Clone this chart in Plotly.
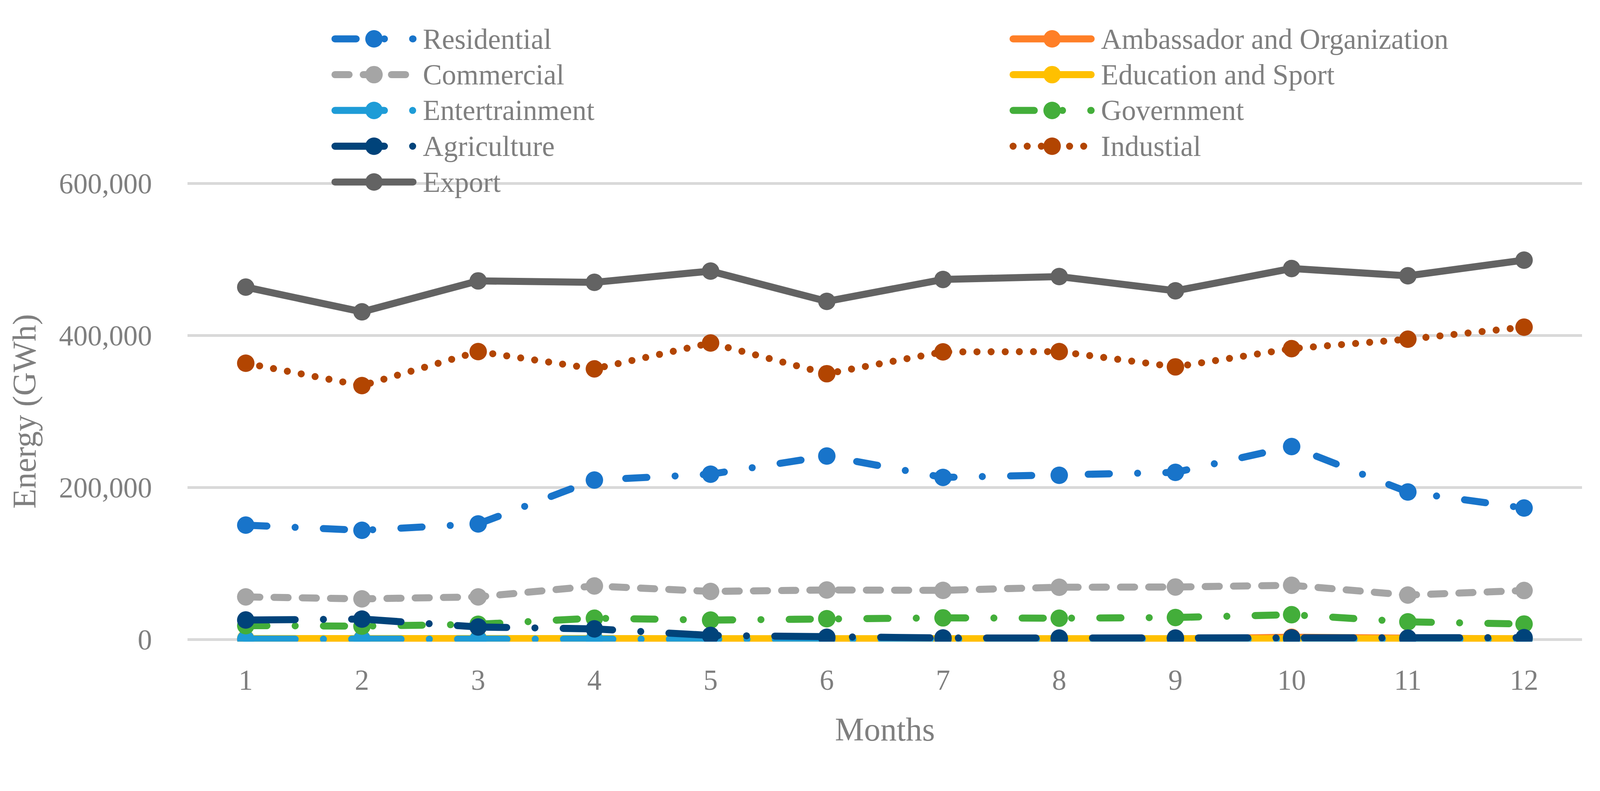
import plotly.graph_objects as go

# ---------------- data ----------------
months = list(range(1, 13))
series_names = ["Residential", "Ambassador and Organization", "Commercial",
                "Education and Sport", "Entertrainment", "Government",
                "Agriculture", "Industial", "Export"]

residential   = [150400, 143600, 152000, 209700, 217400, 241300, 213200, 216000, 219800, 253800, 194000, 172900]
ambassador    = [300, 300, 400, 500, 500, 300, 300, 300, 500, 2900, 1500, 600]
commercial    = [56000, 53400, 56000, 70400, 63200, 65100, 64600, 68700, 69000, 71300, 58400, 64400]
education     = [1100, 1000, 1100, 1000, 1100, 1000, 1000, 1000, 1000, 1100, 1000, 1000]
entertainment = [500, 450, 500, 480, 520, 470, 500, 490, 480, 510, 470, 500]
government    = [18200, 17500, 20000, 28000, 25500, 27300, 28400, 28000, 28900, 32600, 23200, 20300]
agriculture   = [25600, 26800, 16400, 13900, 5300, 2900, 2000, 1900, 1900, 2100, 1800, 2400]
industrial    = [363400, 334000, 378700, 356000, 390000, 349600, 378300, 378700, 358600, 382600, 395000, 410800]
export        = [463500, 431000, 471700, 469800, 484600, 444800, 473600, 477400, 458700, 488000, 478400, 499000]

y_ticks = [0, 200000, 400000, 600000]
y_max = 600000

values = [residential, ambassador, commercial, education, entertainment,
          government, agriculture, industrial, export]

# ---------------- styles ----------------
colors = ["#1874CA", "#FF7F27", "#A5A5A5", "#FFC000", "#1E9CD7",
          "#43AE3A", "#00437A", "#B24501", "#636363"]
LW = 19
MS = 47


def round_cap_dash(visible):
    """Visible dash/gap lengths -> dasharray for round-capped strokes."""
    if visible is None:
        return "solid"
    out = []
    for k, v in enumerate(visible):
        out.append(max(v - LW, 0) if k % 2 == 0 else v + LW)
    return ",".join("%gpx" % v for v in out)


DASH_DOT = [76, 57, 19, 57]
LONG_DASH_DOT = [152, 57, 19, 57]
visible_patterns = [DASH_DOT, None, [57, 19], None, LONG_DASH_DOT,
                    DASH_DOT, LONG_DASH_DOT, [19, 19], None]
dashes = [round_cap_dash(p) for p in visible_patterns]

FONT = "Liberation Serif"
TXT = "#7F7F7F"

W, H = 4306, 2024
zero_px, top_px = 1720, 467          # pixel rows of the 0 and 600,000 gridlines
PAD = 6                              # keep edge gridlines off the domain border
ML, MR, MT = 505, 48, 0
MB = H - (zero_px + PAD)
plot_h = H - MT - MB
px_per_unit = (zero_px - top_px) / y_max
y_pad = PAD / px_per_unit
dom_top = (plot_h - (top_px - PAD - MT)) / plot_h

fig = go.Figure()

# main series
for name, vals, col, dash in zip(series_names, values, colors, dashes):
    fig.add_trace(go.Scatter(
        x=months, y=vals, name=name, mode="lines+markers",
        line=dict(color=col, width=LW, dash=dash),
        marker=dict(color=col, size=MS, symbol="circle", opacity=1, line=dict(width=0)),
        xaxis="x", yaxis="y", showlegend=False))

# custom legend (two columns, row-major) drawn on an overlay pixel axis
col_x0 = [892, 2717]
row_y0, row_dy = 70, 98.3
sw_len = 229
annotations = []
for i, (name, col, dash) in enumerate(zip(series_names, colors, dashes)):
    r, c = divmod(i, 2)
    x0 = col_x0[c]
    yy = row_y0 + r * row_dy
    fig.add_trace(go.Scatter(
        x=[x0 + LW / 2, x0 + sw_len / 2, x0 + sw_len - LW / 2], y=[yy, yy, yy],
        mode="lines+markers",
        line=dict(color=col, width=LW, dash=dash),
        marker=dict(color=col, size=[0, MS, 0], opacity=1, line=dict(width=0)),
        xaxis="x2", yaxis="y2", showlegend=False, hoverinfo="skip"))
    annotations.append(dict(
        x=x0 + 244, y=yy, xref="x2", yref="y2", text=name, showarrow=False,
        xanchor="left", yanchor="middle",
        font=dict(family=FONT, size=77, color=TXT)))

fig.update_layout(
    width=W, height=H,
    margin=dict(l=ML, r=MR, t=MT, b=MB, pad=0),
    paper_bgcolor="white", plot_bgcolor="rgba(0,0,0,0)",
    showlegend=False,
    font=dict(family=FONT, color=TXT, size=77),
    xaxis=dict(
        range=[0.5, 12.5], tickvals=months, ticktext=[str(m) for m in months],
        showgrid=False, zeroline=False, showline=False, ticks="",
        tickfont=dict(family=FONT, size=77, color=TXT),
        ticklabelstandoff=52,
        title=dict(text="Months", font=dict(family=FONT, size=88, color=TXT), standoff=58),
        anchor="y", domain=[0, 1]),
    yaxis=dict(
        range=[-y_pad, y_max + y_pad], tickvals=y_ticks, tickformat=",d",
        domain=[0, dom_top],
        showgrid=True, gridcolor="#D9D9D9", gridwidth=7,
        zeroline=False, showline=False, ticks="",
        tickfont=dict(family=FONT, size=77, color=TXT),
        ticklabelstandoff=95,
        title=dict(text="Energy (GWh)", font=dict(family=FONT, size=88, color=TXT), standoff=33),
        anchor="x"),
    xaxis2=dict(range=[ML, W - MR], domain=[0, 1], visible=False, anchor="y2", fixedrange=True),
    yaxis2=dict(range=[H - MB, MT], domain=[0, 1], visible=False, anchor="x2", fixedrange=True),
    annotations=annotations,
)

# scale the fixed-size figure so it exactly fills the browser viewport,
# and give the series strokes round caps/joins like the original chart
fit_js = """
var gd = document.getElementById('{plot_id}');
document.documentElement.style.margin = '0';
document.documentElement.style.overflow = 'hidden';
document.body.style.margin = '0';
document.body.style.overflow = 'hidden';
var s = Math.min(window.innerWidth / %d, window.innerHeight / %d);
var wrap = gd.parentElement;
wrap.style.width = (%d * s) + 'px';
wrap.style.height = (%d * s) + 'px';
wrap.style.overflow = 'hidden';
gd.style.transformOrigin = '0 0';
gd.style.transform = 'scale(' + s + ')';
gd.querySelectorAll('.scatterlayer path.js-line').forEach(function(p) {
    p.style.strokeLinecap = 'round';
    p.style.strokeLinejoin = 'round';
});
""" % (W, H, W, H)

fig.write_html("out.html", post_script=fit_js, config={"displayModeBar": False})
